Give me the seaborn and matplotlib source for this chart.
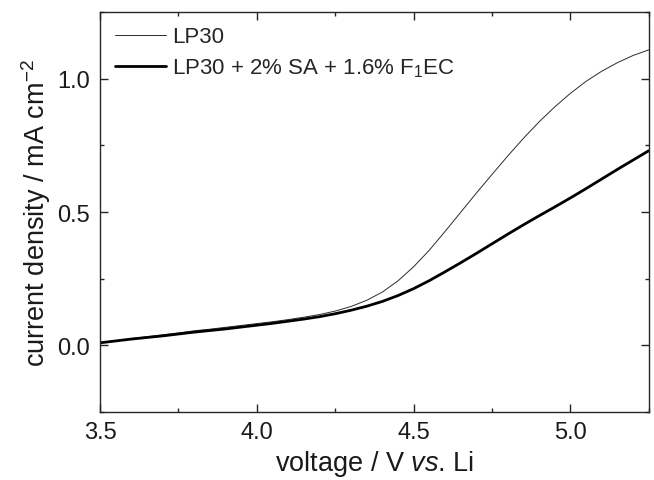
import matplotlib
matplotlib.use("Agg")
import matplotlib.pyplot as plt
import seaborn as sns
import pandas as pd
from matplotlib.ticker import MultipleLocator, FormatStrFormatter

# Spannung in V vs. Li
voltage = [3.50, 3.55, 3.60, 3.65, 3.70, 3.75, 3.80, 3.85, 3.90, 3.95,
           4.00, 4.05, 4.10, 4.15, 4.20, 4.25, 4.30, 4.35, 4.40, 4.45,
           4.50, 4.55, 4.60, 4.65, 4.70, 4.75, 4.80, 4.85, 4.90, 4.95,
           5.00, 5.05, 5.10, 5.15, 5.20, 5.25]

# Stromdichte in mA cm^-2
lp30 = [0.010, 0.018, 0.026, 0.033, 0.040, 0.047, 0.055, 0.061, 0.068, 0.075,
        0.082, 0.089, 0.097, 0.106, 0.116, 0.129, 0.146, 0.169, 0.200, 0.242,
        0.295, 0.357, 0.427, 0.499, 0.571, 0.641, 0.710, 0.776, 0.838, 0.894,
        0.945, 0.990, 1.028, 1.060, 1.087, 1.108]

lp30_sa_fec = [0.010, 0.017, 0.024, 0.030, 0.036, 0.043, 0.050, 0.056, 0.062, 0.069,
               0.076, 0.083, 0.091, 0.099, 0.108, 0.119, 0.132, 0.147, 0.165, 0.187,
               0.213, 0.243, 0.276, 0.310, 0.345, 0.381, 0.417, 0.452, 0.486, 0.519,
               0.553, 0.588, 0.624, 0.660, 0.695, 0.730]

series_names = ["LP30", "LP30 + 2% SA + 1.6% F$_1$EC"]
line_widths = [0.7, 2.0]
line_colors = ["#2b2b2b", "black"]

df = pd.concat([
    pd.DataFrame({"voltage": voltage, "current": lp30, "series": series_names[0]}),
    pd.DataFrame({"voltage": voltage, "current": lp30_sa_fec, "series": series_names[1]}),
])

sns.set_style("ticks")
plt.rcParams.update({
    "font.family": ["Liberation Sans", "DejaVu Sans"],
    "mathtext.fontset": "custom",
    "mathtext.rm": "Liberation Sans",
    "mathtext.it": "Liberation Sans:italic",
    "mathtext.bf": "Liberation Sans:bold",
})

fig, ax = plt.subplots(figsize=(6.54, 4.81), dpi=100)
fig.subplots_adjust(left=0.153, right=0.992, top=0.973, bottom=0.141)

sns.lineplot(data=df, x="voltage", y="current", hue="series", size="series",
             sizes=dict(zip(series_names, line_widths)),
             palette=dict(zip(series_names, line_colors)),
             ax=ax, legend=False)

# Legende mit passenden Linienstärken
for name, lw, col in zip(series_names, line_widths, line_colors):
    ax.plot([], [], color=col, lw=lw, label=name)

ax.set_xlim(3.5, 5.25)
ax.set_ylim(-0.25, 1.25)
ax.xaxis.set_major_locator(MultipleLocator(0.5))
ax.xaxis.set_minor_locator(MultipleLocator(0.25))
ax.yaxis.set_major_locator(MultipleLocator(0.5))
ax.yaxis.set_minor_locator(MultipleLocator(0.25))
ax.xaxis.set_major_formatter(FormatStrFormatter("%.1f"))
ax.yaxis.set_major_formatter(FormatStrFormatter("%.1f"))

ax.tick_params(which="both", direction="in", top=True, right=True, labelsize=17,
               width=1, labelcolor="#1a1a1a")
ax.tick_params(which="major", length=6)
ax.tick_params(which="minor", length=3)
ax.tick_params(axis="x", which="major", pad=6)
ax.tick_params(axis="y", which="major", pad=7)
for sp in ax.spines.values():
    sp.set_linewidth(1.0)
    sp.set_visible(True)

ax.set_xlabel("voltage / V $\\mathit{vs}$. Li", fontsize=19.5, color="#1a1a1a", labelpad=4)
ax.set_ylabel("current density / mA cm$^{-2}$", fontsize=19.5, color="#1a1a1a", labelpad=3)

ax.legend(loc="upper left", frameon=False, fontsize=16, handlelength=2.3,
          handletextpad=0.3, labelspacing=0.4, borderaxespad=0.25)

fig.savefig("out.png", dpi=100)
